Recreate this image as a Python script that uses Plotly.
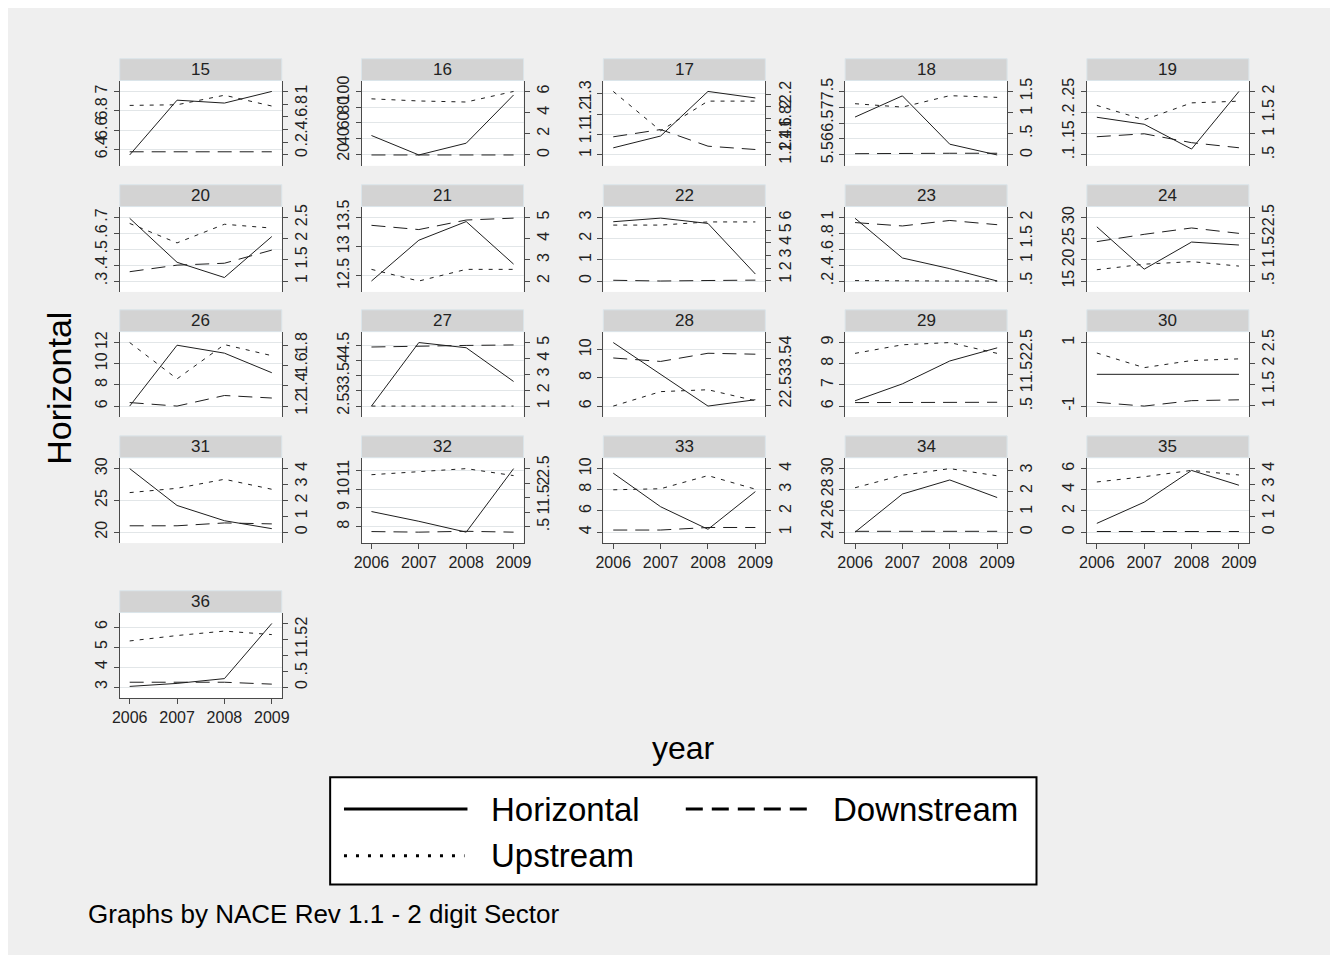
import plotly.graph_objects as go

# page: body keeps its default 8px margin, so the figure is 16px smaller
OFF = 8
W, H = 1338 - 2 * OFF, 963 - 2 * OFF

years = [2006, 2007, 2008, 2009]
year_labels = ["2006", "2007", "2008", "2009"]
sectors = ["15", "16", "17", "18", "19", "20", "21", "22", "23", "24",
           "26", "27", "28", "29", "30", "31", "32", "33", "34", "35", "36"]

# Horizontal (left axis)
horizontal = [
    [6.345, 6.91, 6.88, 7.0],
    [43.8, 19.0, 34.0, 95.5],
    [1.035, 1.093, 1.312, 1.28],
    [6.69, 7.36, 5.83, 5.49],
    [0.189, 0.1725, 0.114, 0.25],
    [0.695, 0.418, 0.322, 0.58],
    [12.41, 13.11, 13.43, 12.70],
    [2.8, 2.97, 2.72, 0.33],
    [0.99, 0.49, 0.356, 0.2],
    [27.8, 17.8, 24.2, 23.5],
    [6.0, 11.75, 11.0, 9.15],
    [2.5, 4.59, 4.42, 3.31],
    [10.5, 8.25, 6.0, 6.45],
    [6.25, 7.05, 8.13, 8.75],
    [0.0, 0.0, 0.0, 0.0],
    [30.0, 24.2, 21.8, 20.55],
    [8.81, 8.29, 7.71, 11.1],
    [9.57, 6.4, 4.27, 7.83],
    [24.0, 27.6, 28.93, 27.27],
    [0.83, 2.83, 5.83, 4.43],
    [3.03, 3.18, 3.42, 6.18],
]

# Upstream (right axis)
upstream = [
    [0.78, 0.79, 0.94, 0.77],
    [5.3, 5.1, 5.0, 6.0],
    [2.25, 1.6, 2.09, 2.09],
    [1.21, 1.13, 1.40, 1.36],
    [1.67, 1.33, 1.73, 1.77],
    [2.36, 1.9, 2.34, 2.25],
    [2.55, 2.0, 2.55, 2.55],
    [5.4, 5.4, 5.65, 5.65],
    [0.51, 0.5, 0.5, 0.5],
    [0.855, 1.03, 1.11, 0.97],
    [1.83, 1.47, 1.81, 1.70],
    [1.0, 1.0, 1.0, 1.0],
    [1.98, 2.44, 2.5, 2.15],
    [2.16, 2.43, 2.5, 2.16],
    [2.25, 1.9, 2.07, 2.11],
    [2.49, 2.76, 3.33, 2.70],
    [2.30, 2.41, 2.51, 2.27],
    [3.0, 3.05, 3.67, 3.03],
    [2.16, 2.77, 3.09, 2.74],
    [3.16, 3.49, 3.89, 3.6],
    [1.45, 1.62, 1.76, 1.65],
]

# Downstream (right axis)
downstream = [
    [0.05, 0.05, 0.06, 0.05],
    [0.0, 0.0, 0.0, 0.0],
    [1.5, 1.62, 1.345, 1.29],
    [0.03, 0.04, 0.04, 0.04],
    [0.93, 1.0, 0.79, 0.67],
    [1.22, 1.375, 1.42, 1.73],
    [4.63, 4.43, 4.88, 4.97],
    [1.04, 0.98, 1.02, 1.05],
    [1.88, 1.8, 1.93, 1.83],
    [1.74, 1.97, 2.17, 2.0],
    [1.235, 1.2, 1.305, 1.28],
    [4.72, 4.78, 4.82, 4.85],
    [3.51, 3.40, 3.66, 3.63],
    [0.61, 0.62, 0.62, 0.62],
    [1.07, 0.98, 1.11, 1.13],
    [0.4, 0.4, 0.58, 0.52],
    [0.34, 0.32, 0.35, 0.32],
    [1.1, 1.1, 1.22, 1.22],
    [0.04, 0.04, 0.04, 0.04],
    [0.04, 0.04, 0.04, 0.04],
    [0.15, 0.15, 0.15, 0.09],
]

left_ticks = [
    ["6.4", "6.6", "6.8", "7"],
    ["20", "40", "60", "80", "100"],
    ["1", "1.1", "1.2", "1.3"],
    ["5.5", "6", "6.5", "7", "7.5"],
    [".1", ".15", ".2", ".25"],
    [".3", ".4", ".5", ".6", ".7"],
    ["12.5", "13", "13.5"],
    ["0", "1", "2", "3"],
    [".2", ".4", ".6", ".8", "1"],
    ["15", "20", "25", "30"],
    ["6", "8", "10", "12"],
    ["2.5", "3", "3.5", "4", "4.5"],
    ["6", "8", "10"],
    ["6", "7", "8", "9"],
    ["-1", "1"],
    ["20", "25", "30"],
    ["8", "9", "10", "11"],
    ["4", "6", "8", "10"],
    ["24", "26", "28", "30"],
    ["0", "2", "4", "6"],
    ["3", "4", "5", "6"],
]

right_ticks = [
    ["0", ".2", ".4", ".6", ".8", "1"],
    ["0", "2", "4", "6"],
    ["1.2", "1.4", "1.6", "1.8", "2", "2.2"],
    ["0", ".5", "1", "1.5"],
    [".5", "1", "1.5", "2"],
    ["1", "1.5", "2", "2.5"],
    ["2", "3", "4", "5"],
    ["1", "2", "3", "4", "5", "6"],
    [".5", "1", "1.5", "2"],
    [".5", "1", "1.5", "2", "2.5"],
    ["1.2", "1.4", "1.6", "1.8"],
    ["1", "2", "3", "4", "5"],
    ["2", "2.5", "3", "3.5", "4"],
    [".5", "1", "1.5", "2", "2.5"],
    ["1", "1.5", "2", "2.5"],
    ["0", "1", "2", "3", "4"],
    [".5", "1", "1.5", "2", "2.5"],
    ["1", "2", "3", "4"],
    ["0", "1", "2", "3"],
    ["0", "1", "2", "3", "4"],
    ["0", ".5", "1", "1.5", "2"],
]

bottom_panels = {"32", "33", "34", "35", "36"}

# ---- layout geometry (page pixels) ----
col_x0 = [113 + 244.75 * c for c in range(5)]
panel_w = 164
row_top = [52, 179, 305, 432, 588]
strip_h = 22
plot_h = 86
inner_pad = 11.0 / 64.0

FONT = "Liberation Sans, Arial, sans-serif"
AXIS_COL = "#4a4a4a"
GRID_COL = "#e2e6e8"
LINE_COL = "#1e1e1e"
TICK_SIZE = 16


def px(x):
    return (x - OFF) / W


def py(y):
    return 1 - (y - OFF) / H


def rng(vals, ticks):
    tv = [float(t) for t in ticks]
    lo = min(min(vals), min(tv))
    hi = max(max(vals), max(tv))
    if hi == lo:
        hi, lo = hi + 1, lo - 1
    pad = (hi - lo) * inner_pad
    return [lo - pad, hi + pad]


def axname(prefix, n):
    return prefix if n == 1 else f"{prefix}{n}"


fig = go.Figure()
layout = {}
shapes = []
annotations = []

for i, sec in enumerate(sectors):
    r, c = divmod(i, 5)
    x0 = col_x0[c]
    x1 = x0 + panel_w
    st = row_top[r]
    pt = st + strip_h
    pb = pt + plot_h

    xi = i + 1
    yl = 2 * i + 1
    yr = 2 * i + 2
    xn, yln, yrn = axname("x", xi), axname("y", yl), axname("y", yr)

    is_bottom = sec in bottom_panels

    layout[axname("xaxis", xi)] = dict(
        domain=[px(x0), px(x1)], anchor=yln, range=[2005.79, 2009.21],
        tickmode="array", tickvals=years, ticktext=year_labels,
        showticklabels=is_bottom, ticks="outside" if is_bottom else "",
        ticklen=5, tickcolor=AXIS_COL, showline=is_bottom, linecolor=AXIS_COL,
        linewidth=1, showgrid=False, zeroline=False, fixedrange=True,
        tickfont=dict(family=FONT, size=TICK_SIZE, color="#222"),
    )
    layout[axname("yaxis", yl)] = dict(
        domain=[py(pb), py(pt)], anchor=xn, side="left",
        range=rng(horizontal[i], left_ticks[i]),
        tickmode="array", tickvals=[float(t) for t in left_ticks[i]],
        ticktext=left_ticks[i], tickangle=-90, ticks="outside", ticklen=5,
        tickcolor=AXIS_COL, showline=True, linecolor=AXIS_COL, linewidth=1,
        showgrid=True, gridcolor=GRID_COL, gridwidth=1, zeroline=False,
        fixedrange=True, tickfont=dict(family=FONT, size=TICK_SIZE, color="#222"),
    )
    layout[axname("yaxis", yr)] = dict(
        domain=[py(pb), py(pt)], anchor=xn, side="right", overlaying=yln,
        range=rng(upstream[i] + downstream[i], right_ticks[i]),
        tickmode="array", tickvals=[float(t) for t in right_ticks[i]],
        ticktext=right_ticks[i], tickangle=-90, ticks="outside", ticklen=5,
        tickcolor=AXIS_COL, showline=True, linecolor=AXIS_COL, linewidth=1,
        showgrid=False, zeroline=False, fixedrange=True,
        tickfont=dict(family=FONT, size=TICK_SIZE, color="#222"),
    )

    fig.add_trace(go.Scatter(x=years, y=horizontal[i], xaxis=xn, yaxis=yln,
                             mode="lines", showlegend=False,
                             line=dict(color=LINE_COL, width=1)))
    fig.add_trace(go.Scatter(x=years, y=upstream[i], xaxis=xn, yaxis=yrn,
                             mode="lines", showlegend=False,
                             line=dict(color=LINE_COL, width=1, dash="4px,6px")))
    fig.add_trace(go.Scatter(x=years, y=downstream[i], xaxis=xn, yaxis=yrn,
                             mode="lines", showlegend=False,
                             line=dict(color=LINE_COL, width=1, dash="14px,8px")))

    # strip
    shapes.append(dict(type="rect", xref="paper", yref="paper",
                       x0=px(x0), x1=px(x1), y0=py(pt), y1=py(st),
                       fillcolor="#d3d3d3", line=dict(color="#dbe5ea", width=1),
                       layer="below"))
    annotations.append(dict(text=sec, xref="paper", yref="paper",
                            x=px((x0 + x1) / 2), y=py(st + strip_h / 2),
                            showarrow=False, xanchor="center", yanchor="middle",
                            font=dict(family=FONT, size=17, color="#222")))

# legend box
shapes.append(dict(type="rect", xref="paper", yref="paper",
                   x0=px(326), x1=px(1041), y0=py(884), y1=py(776),
                   fillcolor="white", line=dict(color="black", width=2)))
shapes.append(dict(type="line", xref="paper", yref="paper",
                   x0=px(340), x1=px(465), y0=py(808), y1=py(808),
                   line=dict(color="black", width=3)))
shapes.append(dict(type="line", xref="paper", yref="paper",
                   x0=px(686), x1=px(811), y0=py(808), y1=py(808),
                   line=dict(color="black", width=3, dash="17px,9px")))
shapes.append(dict(type="line", xref="paper", yref="paper",
                   x0=px(340), x1=px(462), y0=py(855), y1=py(855),
                   line=dict(color="black", width=3, dash="3px,9px")))
for txt, lx, ly in [("Horizontal", 487, 808), ("Downstream", 833, 808), ("Upstream", 487, 855)]:
    annotations.append(dict(text=txt, xref="paper", yref="paper", x=px(lx), y=py(ly),
                            showarrow=False, xanchor="left", yanchor="middle",
                            font=dict(family=FONT, size=33, color="black")))

# titles
annotations.append(dict(text="Horizontal", xref="paper", yref="paper",
                        x=px(52), y=py(384), textangle=-90, showarrow=False,
                        xanchor="center", yanchor="middle",
                        font=dict(family=FONT, size=34, color="black")))
annotations.append(dict(text="year", xref="paper", yref="paper",
                        x=px(684), y=py(746), showarrow=False,
                        xanchor="center", yanchor="middle",
                        font=dict(family=FONT, size=32, color="black")))
annotations.append(dict(text="Graphs by NACE Rev 1.1 - 2 digit Sector", xref="paper",
                        yref="paper", x=px(79), y=py(914), showarrow=False,
                        xanchor="left", yanchor="middle",
                        font=dict(family=FONT, size=26, color="black")))

fig.update_layout(
    width=W, height=H, margin=dict(l=0, r=0, t=0, b=0),
    paper_bgcolor="#efefef", plot_bgcolor="white",
    showlegend=False, shapes=shapes, annotations=annotations,
    **layout,
)

fig.write_html("out.html", config={"displayModeBar": False})
